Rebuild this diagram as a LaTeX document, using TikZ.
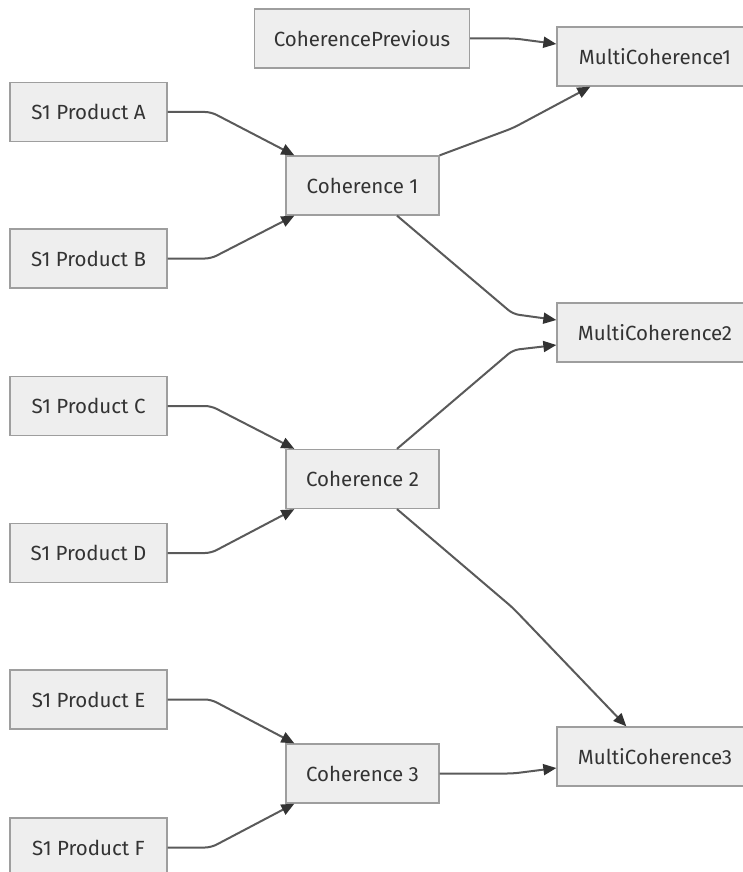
\documentclass[tikz,border=0pt]{standalone}
\usepackage{fontspec}
\setmainfont{Fira Sans}
\usetikzlibrary{arrows.meta}
\definecolor{boxfill}{HTML}{EEEEEE}
\definecolor{boxline}{HTML}{9E9E9E}
\definecolor{edgecol}{HTML}{5A5A5A}
\definecolor{tipcol}{HTML}{333333}
\definecolor{txtcol}{HTML}{333333}
\tikzset{
  stepbox/.style={rectangle, fill=boxfill, draw=boxline, line width=1.3pt,
    minimum height=59pt, inner sep=0pt, text=txtcol,
    font=\fontsize{20.5}{24}\selectfont},
  srcbox/.style={stepbox, minimum width=157pt},
  cohbox/.style={stepbox, minimum width=153pt},
  multibox/.style={stepbox, minimum width=196pt},
  flow/.style={draw=edgecol, line width=2pt, rounded corners=6pt,
    -{Triangle[length=13pt,width=11pt,fill=tipcol,color=tipcol]}},
}
\begin{document}
\begin{tikzpicture}[x=1pt,y=-1pt]
\useasboundingbox (0,0) rectangle (742,872);

% source products
\node[srcbox] (pa) at (88.5,112)   {S1 Product A};
\node[srcbox] (pb) at (88.5,258.5) {S1 Product B};
\node[srcbox] (pc) at (88.5,406)   {S1 Product C};
\node[srcbox] (pd) at (88.5,553)   {S1 Product D};
\node[srcbox] (pe) at (88.5,699.5) {S1 Product E};
\node[srcbox] (pf) at (88.5,847.5) {S1 Product F};

% coherence nodes
\node[stepbox, minimum width=215pt] (cp) at (362,38.5) {CoherencePrevious};
\node[cohbox] (c1) at (362.5,185.5) {Coherence 1};
\node[cohbox] (c2) at (362.5,479)   {Coherence 2};
\node[cohbox] (c3) at (362.5,773.5) {Coherence 3};

% multi-coherence nodes (running past the right edge)
\node[multibox] (m1) at (655,56.5)  {MultiCoherence1};
\node[multibox] (m2) at (655,332.5) {MultiCoherence2};
\node[multibox] (m3) at (655,756.5) {MultiCoherence3};

% products into coherences
\draw[flow] (pa.east) -- (211,112)   -- ([xshift=9pt]c1.north west);
\draw[flow] (pb.east) -- (211,258.5) -- ([xshift=9pt]c1.south west);
\draw[flow] (pc.east) -- (211,406)   -- ([xshift=9pt]c2.north west);
\draw[flow] (pd.east) -- (211,553)   -- ([xshift=9pt]c2.south west);
\draw[flow] (pe.east) -- (211,699.5) -- ([xshift=9pt]c3.north west);
\draw[flow] (pf.east) -- (211,847.5) -- ([xshift=9pt]c3.south west);

% coherences into multi-coherences
\draw[flow] (cp.east) -- (515,38.5) -- ([yshift=12.5pt]m1.west);
\draw[flow] (c1.north east) -- (513,128) -- ([xshift=34pt]m1.south west);
\draw[flow] ([xshift=34.5pt]c1.south) -- (513,314) -- ([yshift=12.5pt]m2.west);
\draw[flow] ([xshift=34.5pt]c2.north) -- (513,350) -- ([yshift=-12.5pt]m2.west);
\draw[flow] ([xshift=34.5pt]c2.south) -- (513,608) -- ([xshift=70pt]m3.north west);
\draw[flow] (c3.east) -- (513,773.5) -- ([yshift=-11.5pt]m3.west);
\end{tikzpicture}
\end{document}
